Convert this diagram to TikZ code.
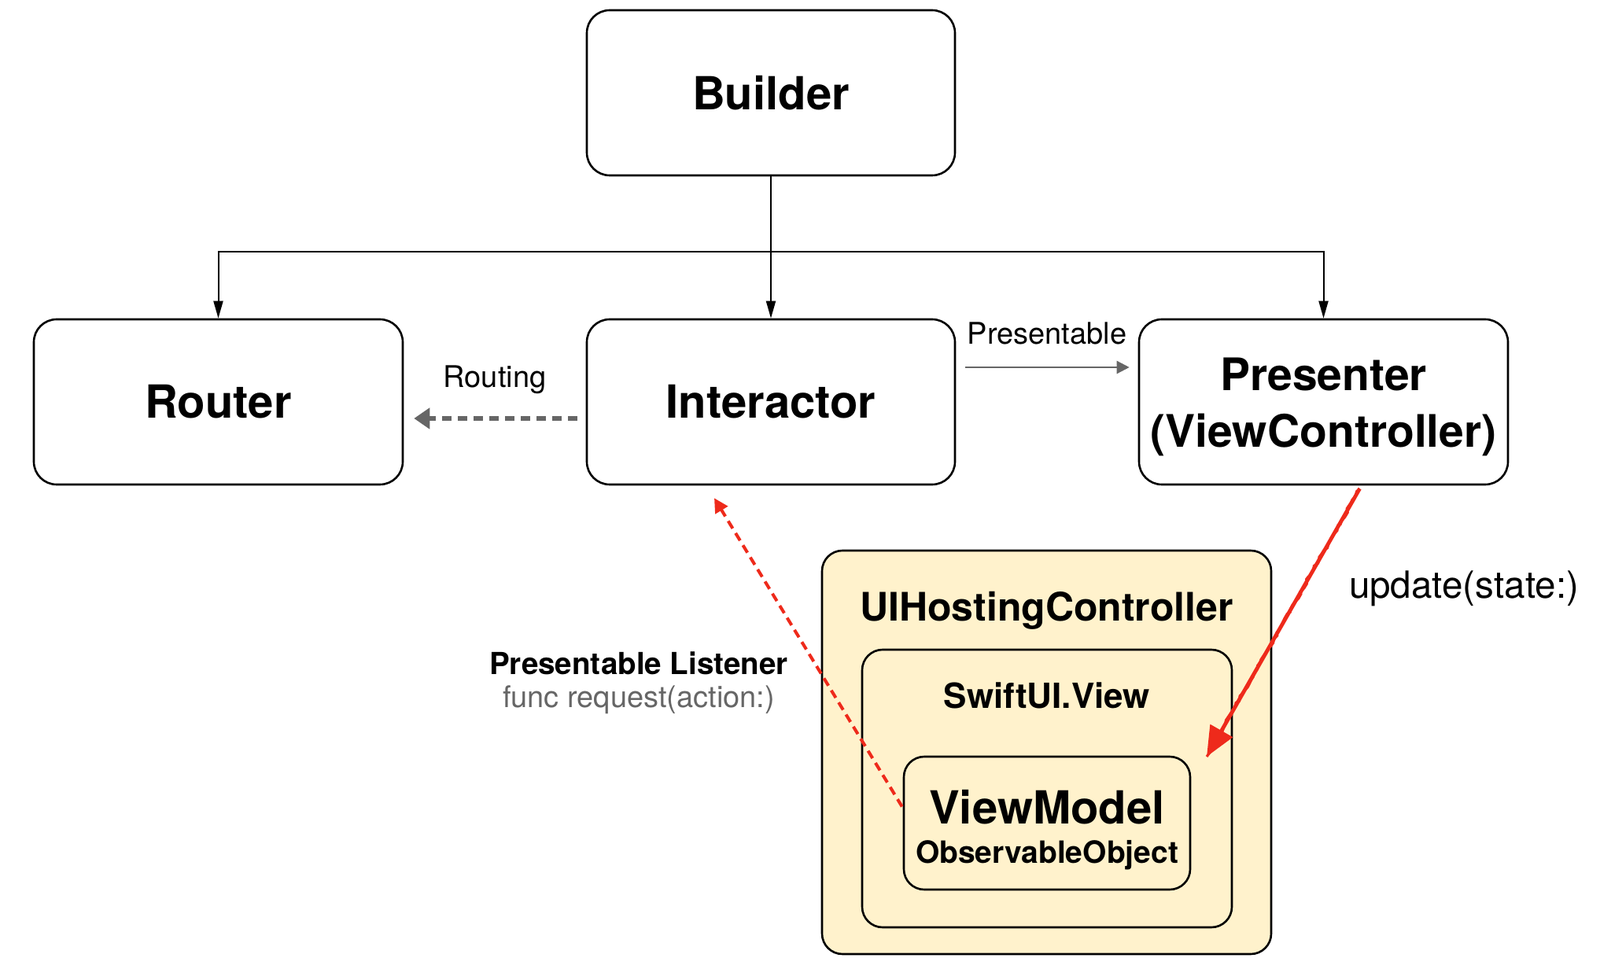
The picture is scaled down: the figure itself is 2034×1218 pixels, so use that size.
\documentclass[tikz,border=0pt]{standalone}
\usepackage{fontspec}
\setmainfont{TeX Gyre Heros}
\usetikzlibrary{arrows.meta,decorations.pathmorphing,calc}
\definecolor{cream}{HTML}{FFF2CC}
\definecolor{redline}{HTML}{EE2A1B}
\definecolor{graytxt}{HTML}{666666}
\begin{document}
\begin{tikzpicture}[x=0.5pt,y=-0.5pt,
  box/.style={draw=black, line width=1.3pt, rounded corners=14.5pt, fill=white, align=center, inner sep=0pt},
  bigtext/.style={font=\fontsize{29}{36}\selectfont\bfseries},
  conn/.style={draw=black, line width=1pt, -{Triangle[length=11pt,width=6pt]}},
  routingarrow/.style={draw=graytxt, line width=3pt, dash pattern=on 6pt off 4pt, -{Triangle[length=10pt,width=13pt]}},
  presarrow/.style={draw=graytxt, line width=1.2pt, -{Triangle[length=8pt,width=8pt]}},
  reddash/.style={draw=redline, line width=2pt, dash pattern=on 5.5pt off 3.5pt, -{Triangle[length=9pt,width=9pt]}},
  redsketch/.style={draw=redline, line width=2.4pt, -{Triangle[length=19pt,width=16pt]},
     postaction={draw=redline, line width=1.6pt, -, decorate, decoration={random steps, segment length=2.5pt, amplitude=0.9pt}}},
  lbl/.style={font=\fontsize{19}{23}\selectfont, inner sep=0pt},
]
\useasboundingbox (0,0) rectangle (2034,1218);

% main boxes
\node[box, minimum width=234pt, minimum height=105pt, bigtext] (builder) at (980,118) {Builder};
\node[box, minimum width=234.5pt, minimum height=105pt, bigtext] (router) at (277.5,511) {Router};
\node[box, minimum width=234pt, minimum height=105pt, bigtext] (interactor) at (980,511) {Interactor};
\node[box, minimum width=234.5pt, minimum height=105pt] (presenter) at (1682.5,511) {};
\node[font=\fontsize{28.5}{36}\selectfont\bfseries, align=center, inner sep=0pt] (presentertext) at (1682.5,517) {Presenter\\(ViewController)};

% hosting controller nest
\node[box, fill=cream, rounded corners=13pt, minimum width=285.5pt, minimum height=256.5pt] (hosting) at (1330.5,956.5) {};
\node[font=\fontsize{25}{30}\selectfont\bfseries, inner sep=0pt] (hostingtitle) at (1330.5,776) {UIHostingController};
\node[box, fill=cream, rounded corners=13pt, minimum width=235pt, minimum height=176.5pt] (swiftui) at (1331,1002.5) {};
\node[font=\fontsize{22}{26}\selectfont\bfseries, inner sep=0pt] (swiftuititle) at (1331,884) {SwiftUI.View};
\node[box, fill=cream, rounded corners=13pt, minimum width=182pt, minimum height=84.5pt] (vm) at (1331,1046.5) {};
\node[bigtext, inner sep=0pt] (vmtitle) at (1331,1026) {ViewModel};
\node[font=\fontsize{19.5}{23}\selectfont\bfseries, inner sep=0pt] (vmsub) at (1331,1087) {ObservableObject};

% builder connectors
\coordinate (bus) at (980,320);
\draw[conn] (builder.south) -- (bus) -| (router.north);
\draw[conn] (bus) -| (presenter.north);
\draw[conn] (bus) -- (interactor.north);

% routing
\draw[routingarrow] ([shift={(-11,21)}]interactor.west) -- ([shift={(13,21)}]router.east);
\node[lbl] (routinglbl) at (629,483) {Routing};

% presentable
\draw[presarrow] ([shift={(12,-44)}]interactor.east) -- ([shift={(-11,-44)}]presenter.west);
\node[lbl] (preslbl) at (1331,424) {Presentable};

% presentable listener
\draw[reddash] ([shift={(-1,-21)}]vm.west) -- ([shift={(-72,16)}]interactor.south);
\node[lbl, font=\fontsize{19.3}{23}\selectfont\bfseries] (pl) at (812,843) {Presentable Listener};
\node[lbl, text=graytxt] (fr) at (812,890) {func request(action:)};

% update state
\coordinate (updend) at (1534,962);
\draw[redsketch] ([shift={(46,4)}]presenter.south) -- (updend);
\node[lbl, font=\fontsize{23.8}{28}\selectfont] (updlbl) at (1861,748) {update(state:)};
\end{tikzpicture}
\end{document}
